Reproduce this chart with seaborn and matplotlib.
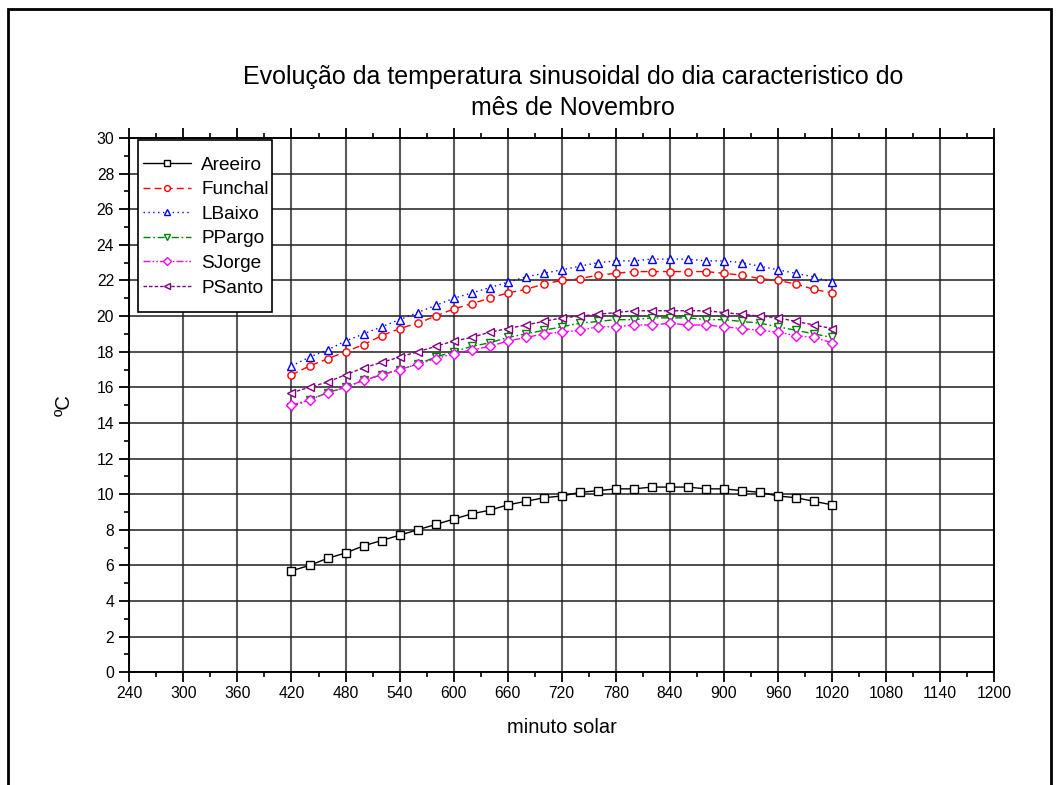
import numpy as np
import pandas as pd
import matplotlib
matplotlib.use("Agg")
import matplotlib.pyplot as plt
from matplotlib.patches import Rectangle
from matplotlib.ticker import MultipleLocator
import seaborn as sns

minutes = list(range(420, 1021, 20))

areeiro = [5.7, 6.0, 6.4, 6.7, 7.1, 7.4, 7.7, 8.0, 8.3, 8.6, 8.9, 9.1, 9.4, 9.6, 9.8, 9.9,
           10.1, 10.2, 10.3, 10.3, 10.4, 10.4, 10.4, 10.3, 10.3, 10.2, 10.1, 9.9, 9.8, 9.6, 9.4]
funchal = [16.7, 17.2, 17.6, 18.0, 18.4, 18.9, 19.3, 19.6, 20.0, 20.4, 20.7, 21.0, 21.3, 21.5, 21.8, 22.0,
           22.1, 22.3, 22.4, 22.5, 22.5, 22.5, 22.5, 22.5, 22.4, 22.3, 22.1, 22.0, 21.8, 21.5, 21.3]
lbaixo = [17.2, 17.7, 18.1, 18.6, 19.0, 19.4, 19.8, 20.2, 20.6, 21.0, 21.3, 21.6, 21.9, 22.2, 22.4, 22.6,
          22.8, 23.0, 23.1, 23.1, 23.2, 23.2, 23.2, 23.1, 23.1, 23.0, 22.8, 22.6, 22.4, 22.2, 21.9]
ppargo = [14.9, 15.3, 15.7, 16.0, 16.4, 16.7, 17.0, 17.3, 17.7, 18.0, 18.3, 18.5, 18.8, 19.0, 19.2, 19.4,
          19.6, 19.7, 19.8, 19.8, 19.9, 19.9, 19.9, 19.8, 19.8, 19.7, 19.6, 19.4, 19.2, 19.0, 18.8]
sjorge = [15.0, 15.3, 15.7, 16.0, 16.4, 16.7, 17.0, 17.3, 17.6, 17.9, 18.1, 18.3, 18.6, 18.8, 19.0, 19.1,
          19.2, 19.4, 19.4, 19.5, 19.5, 19.6, 19.5, 19.5, 19.4, 19.3, 19.2, 19.1, 18.9, 18.8, 18.5]
psanto = [15.7, 16.0, 16.3, 16.7, 17.1, 17.4, 17.7, 18.0, 18.3, 18.6, 18.8, 19.1, 19.3, 19.5, 19.7, 19.9,
          20.0, 20.1, 20.2, 20.3, 20.3, 20.3, 20.3, 20.3, 20.2, 20.1, 20.0, 19.9, 19.7, 19.5, 19.3]

series_names = ["Areeiro", "Funchal", "LBaixo", "PPargo", "SJorge", "PSanto"]
series_values = [areeiro, funchal, lbaixo, ppargo, sjorge, psanto]

title_text = "Evolução da temperatura sinusoidal do dia caracteristico do\nmês de Novembro"
xlabel_text = "minuto solar"
ylabel_text = "ºC"

styles = {
    "Areeiro": dict(color="black", linestyle="-", marker="s"),
    "Funchal": dict(color="#ff0000", linestyle=(0, (5, 3)), marker="o"),
    "LBaixo": dict(color="#0000ff", linestyle=(0, (1, 2.5)), marker="^"),
    "PPargo": dict(color="#008000", linestyle=(0, (5, 2, 1.2, 2)), marker="v"),
    "SJorge": dict(color="#ff00ff", linestyle=(0, (5, 1.5, 1.2, 1.5, 1.2, 1.5)), marker="D"),
    "PSanto": dict(color="#800080", linestyle=(0, (2.5, 1.5)), marker="<"),
}

sns.set_theme(style="white")
plt.rcParams["font.family"] = ["Liberation Sans", "DejaVu Sans"]
plt.rcParams["text.color"] = "black"
plt.rcParams["axes.labelcolor"] = "black"

fig = plt.figure(figsize=(10.61, 7.85), dpi=100)
ax_left, ax_right, ax_top, ax_bottom = 129.3, 994.3, 138.0, 672.3
ax_w, ax_h = ax_right - ax_left, ax_bottom - ax_top
ax = fig.add_axes([ax_left / 1061, 1 - ax_bottom / 785, ax_w / 1061, ax_h / 785])

for name, vals in zip(series_names, series_values):
    st = styles[name]
    ms = 4.6 if st["marker"] == "D" else 5.2
    sns.lineplot(x=minutes, y=vals, ax=ax, label=name, color=st["color"],
                 linestyle=st["linestyle"], marker=st["marker"], markersize=ms,
                 markerfacecolor="white", markeredgecolor=st["color"], markeredgewidth=1.0,
                 linewidth=1.0, zorder=3)

ax.set_xlim(240, 1200)
ax.set_ylim(0, 30)
ax.xaxis.set_major_locator(MultipleLocator(60))
ax.xaxis.set_minor_locator(MultipleLocator(30))
ax.yaxis.set_major_locator(MultipleLocator(2))
ax.yaxis.set_minor_locator(MultipleLocator(1))

ax.xaxis.grid(True, which="major", color="#5a5a5a", linewidth=1.5)
ax.yaxis.grid(True, which="major", color="#1e1e1e", linewidth=1.1)
ax.set_axisbelow(True)

for sp in ax.spines.values():
    sp.set_color("black")
    sp.set_linewidth(1.4)

ax.tick_params(which="major", direction="out", length=7, width=1.3, color="black",
               labelsize=11.3, labelcolor="black", bottom=True, left=True, top=True, right=False,
               labeltop=False, labelright=False)
ax.tick_params(axis="x", which="major", pad=3)
ax.tick_params(axis="y", which="major", pad=4)
ax.tick_params(which="minor", direction="out", length=3.6, width=1.2, color="black",
               bottom=True, left=True, top=True, right=False)

ax.set_xlabel(xlabel_text, fontsize=14.5, color="black", labelpad=12)
ax.set_ylabel(ylabel_text, fontsize=14.5, color="black", labelpad=16)

# legend box (white with black frame)
box = Rectangle(((138 - ax_left) / ax_w, (ax_bottom - 312) / ax_h), 134 / ax_w, 172 / ax_h,
                transform=ax.transAxes, facecolor="white", edgecolor="black",
                linewidth=1.2, zorder=4)
ax.add_patch(box)

leg = ax.legend(loc="upper left",
                bbox_to_anchor=((137.4 - ax_left) / ax_w, (ax_bottom - 150.8) / ax_h),
                borderaxespad=0, fontsize=13.7, frameon=False,
                handlelength=2.5, handletextpad=0.55, labelspacing=0.38, borderpad=0.3)
leg.set_zorder(5)
for t in leg.get_texts():
    t.set_color("black")
for h in leg.legend_handles:
    h.set_markersize(4.2)

fig.text(573 / 1061, 1 - 92.5 / 785, title_text, ha="center", va="center",
         fontsize=18, color="black", linespacing=1.38)

fig.patches.append(Rectangle((7.5 / 1061, -0.1), (1051 - 7.5) / 1061, 1.1 - 8.5 / 785,
                             transform=fig.transFigure, fill=False, edgecolor="black",
                             linewidth=2, figure=fig))

fig.savefig("out.png", dpi=100, facecolor="white")
